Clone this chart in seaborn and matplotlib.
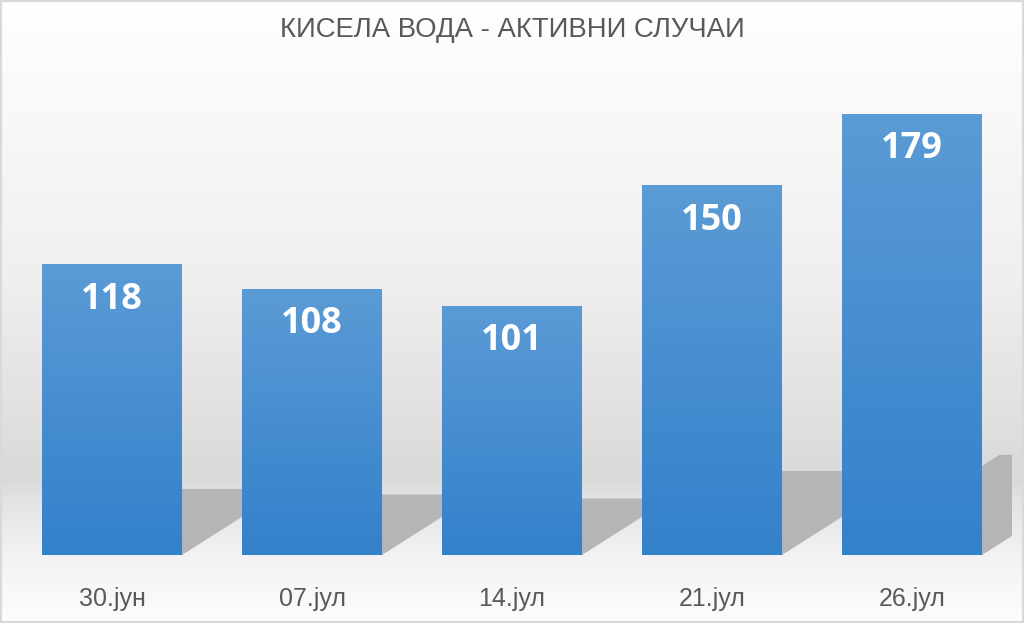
import matplotlib.pyplot as plt
import numpy as np
import pandas as pd
import seaborn as sns
from matplotlib.colors import LinearSegmentedColormap
from matplotlib.patches import Polygon, Rectangle

# ----------------------------------------------------------------------------- data
dates = ["30.јун", "07.јул", "14.јул", "21.јул", "26.јул"]
active_cases = [118, 108, 101, 150, 179]
title = "КИСЕЛА ВОДА - АКТИВНИ СЛУЧАИ"

TEXT = "#595959"
SANS = ["Liberation Sans", "DejaVu Sans"]
BAR_TOP = "#5b9bd5"
BAR_BOTTOM = "#3380cb"

sns.set_theme(style="white")
plt.rcParams["font.family"] = SANS

df = pd.DataFrame({"date": dates, "cases": active_cases})

fig = plt.figure(figsize=(10.24, 6.23), dpi=100)

# background gradient (white top, grey "horizon", lighter floor)
bg = fig.add_axes([0, 0, 1, 1], zorder=-10)
bg_cmap = LinearSegmentedColormap.from_list(
    "bg",
    [(0.0, "#ffffff"), (0.45, "#efefef"), (0.77, "#d9d9d9"),
     (0.80, "#e2e2e2"), (0.89, "#f2f2f2"), (1.0, "#fdfdfd")],
)
bg.imshow(np.linspace(0, 1, 256)[:, None], aspect="auto", cmap=bg_cmap,
          extent=[0, 1, 0, 1], origin="upper")
bg.set_xlim(0, 1)
bg.set_ylim(0, 1)
bg.axis("off")

ax = fig.add_axes([12 / 1024, 68 / 623, 1000 / 1024, 493 / 623])
ax.set_facecolor("none")
sns.barplot(data=df, x="date", y="cases", width=0.7, color=BAR_TOP,
            saturation=1, ax=ax, zorder=3)

bar_cmap = LinearSegmentedColormap.from_list("bar", [BAR_BOTTOM, BAR_TOP])
for patch, val in zip(ax.patches, active_cases):
    x0, w = patch.get_x(), patch.get_width()
    h = patch.get_height()
    # floor shadow, sheared up-right behind the bar
    sh = 0.227 * h
    dx = 0.0044 * h
    shadow = Polygon([(x0, 0), (x0 + w, 0), (x0 + w + dx, sh), (x0 + dx, sh)],
                     closed=True, facecolor="#b5b5b5", edgecolor="none", zorder=1)
    ax.add_patch(shadow)
    # vertical gradient fill
    patch.set_facecolor("none")
    patch.set_edgecolor("none")
    im = ax.imshow(np.linspace(0, 1, 128)[:, None], cmap=bar_cmap, aspect="auto",
                   extent=[x0, x0 + w, 0, h], origin="lower", zorder=3)
    im.set_clip_path(patch)
    ax.annotate(f"{val}", (x0 + w / 2, h), xytext=(0, -25.5), textcoords="offset points",
                ha="center", va="center", color="white", fontsize=26,
                fontweight="bold", family=["Open Sans", "DejaVu Sans"], zorder=5)

ax.set_xlim(-0.5, 4.5)
ax.set_ylim(0, 200)
ax.set_xlabel("")
ax.set_ylabel("")
ax.set_yticks([])
ax.tick_params(axis="x", length=0, pad=23, labelsize=18, labelcolor=TEXT)
for s in ax.spines.values():
    s.set_visible(False)

fig.text(0.5, 1 - 30 / 623, title, ha="center", va="center", fontsize=19.8, color=TEXT)

fig.patches.append(Rectangle((0, 0), 1, 1, transform=fig.transFigure, fill=False,
                             edgecolor="#d9d9d9", linewidth=3, zorder=20))

fig.savefig("out.png", dpi=100)
